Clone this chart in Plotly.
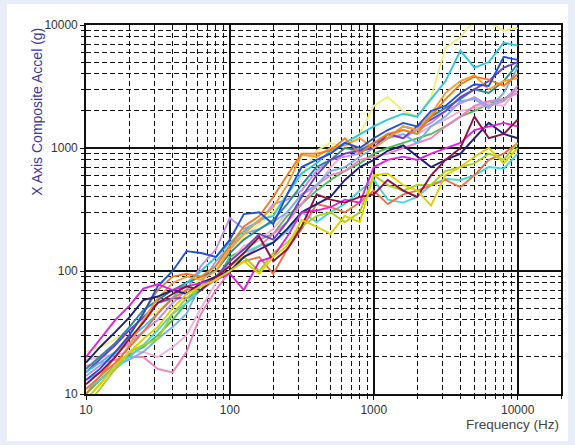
import plotly.graph_objects as go

freq = [10, 12.5, 16, 20, 25, 31.5, 40, 50, 63, 80, 100, 125, 160, 200, 250, 315, 400, 500,
        630, 800, 1000, 1250, 1600, 2000, 2500, 3150, 4000, 5000, 6300, 8000, 10000]

light_yellow = [22, 24, 28, 33, 40, 48, 60, 72, 85, 110, 150, 190, 240, 300, 420, 600, 950, 1100,
                1000, 1300, 2200, 2600, 2000, 1800, 2600, 6500, 8000, 11000, 10500, 9000, 9500]
cyan = [15, 18, 22, 28, 35, 45, 60, 80, 100, 130, 170, 210, 260, 280, 420, 620, 750, 950,
        1100, 1300, 1500, 1700, 1900, 1800, 2500, 3500, 6200, 4500, 5000, 7200, 6800]
blue = [13, 16, 22, 30, 45, 75, 100, 145, 140, 130, 180, 290, 300, 240, 420, 700, 800, 900,
        1100, 1000, 1200, 1400, 1600, 1500, 2000, 2200, 2800, 3300, 3200, 5500, 5200]
orange = [10, 14, 20, 30, 45, 70, 90, 95, 90, 110, 160, 230, 280, 400, 600, 900, 900, 950,
          1200, 900, 1100, 1300, 1400, 1300, 1800, 2500, 3300, 3800, 3600, 3200, 4000]
light_orange = [9, 12, 17, 25, 40, 60, 80, 90, 85, 100, 150, 200, 260, 330, 500, 880, 850, 1000,
                1050, 1200, 1000, 1200, 1500, 1400, 1900, 2800, 3500, 3900, 3000, 3500, 3700]
lavender = [14, 17, 21, 26, 32, 40, 55, 70, 110, 150, 270, 220, 250, 350, 380, 450, 650, 800,
            850, 900, 1100, 1300, 1200, 1400, 1600, 2000, 2300, 2600, 2200, 2400, 3200]
light_blue = [13, 15, 17, 19, 22, 28, 35, 45, 80, 120, 160, 200, 220, 250, 300, 420, 500, 650,
              700, 850, 1000, 1200, 1300, 1100, 1500, 1800, 2400, 2500, 2100, 2800, 4500]
navy = [18, 24, 32, 42, 58, 62, 70, 65, 80, 90, 100, 130, 150, 170, 220, 300, 350, 400,
        550, 700, 800, 950, 1050, 850, 700, 800, 900, 1200, 1600, 1300, 1200]
maroon = [12, 15, 20, 28, 38, 55, 65, 75, 70, 90, 110, 140, 190, 120, 150, 230, 420, 380,
          360, 400, 420, 550, 450, 400, 600, 800, 1000, 1800, 1200, 1300, 1700]
magenta = [20, 28, 40, 52, 72, 78, 70, 75, 80, 85, 95, 70, 120, 130, 190, 300, 310, 330,
           380, 360, 700, 800, 850, 800, 900, 1000, 1100, 1400, 1500, 1600, 1500]
yellow = [9, 12, 17, 22, 28, 35, 50, 65, 75, 85, 100, 120, 95, 130, 160, 260, 230, 200,
          280, 250, 600, 620, 500, 450, 340, 600, 700, 850, 1000, 750, 1000]
yellow_green = [8, 11, 16, 22, 25, 28, 45, 60, 75, 90, 110, 130, 100, 140, 170, 230, 280, 300,
                250, 300, 600, 500, 450, 500, 500, 650, 700, 750, 900, 800, 1100]
turquoise = [11, 13, 16, 20, 25, 33, 45, 55, 75, 90, 110, 140, 160, 170, 210, 300, 250, 300,
             350, 450, 550, 380, 360, 400, 500, 560, 550, 600, 700, 680, 900]
pink = [17, 18, 19, 20, 20, 16, 15, 22, 45, 70, 100, 130, 160, 200, 250, 350, 500, 600,
        650, 800, 850, 900, 1000, 1100, 1200, 1500, 1800, 2200, 2400, 2500, 2800]
light_pink = [19, 20, 21, 22, 22, 20, 24, 30, 50, 80, 120, 160, 180, 220, 300, 420, 480, 700,
              900, 1000, 1100, 1200, 1400, 1300, 1500, 1700, 2000, 2100, 2300, 2200, 3000]
green = [10, 13, 17, 21, 24, 30, 40, 55, 70, 85, 130, 150, 180, 200, 280, 350, 450, 550,
         650, 750, 900, 1000, 1100, 1200, 1300, 1500, 1800, 2000, 2300, 2500, 3000]
salmon = [11, 14, 18, 24, 32, 45, 60, 70, 75, 85, 100, 120, 130, 95, 150, 220, 350, 330,
          300, 360, 450, 350, 420, 450, 500, 550, 480, 600, 800, 900, 1100]
purple = [15, 19, 25, 33, 42, 55, 60, 60, 70, 90, 120, 150, 200, 180, 250, 400, 600, 800,
          900, 950, 1000, 1300, 1200, 1500, 1700, 2000, 2600, 3000, 3500, 4500, 5000]
dark_teal = [16, 20, 26, 35, 48, 58, 70, 80, 90, 100, 140, 180, 220, 260, 350, 500, 700, 800,
             1000, 950, 1100, 1200, 1500, 1400, 1800, 2100, 2500, 3000, 2800, 3500, 4800]

series = [
    ("Run 1", light_yellow, "#eef07a"),
    ("Run 2", green, "#48c050"),
    ("Run 3", light_pink, "#f5b0d8"),
    ("Run 4", pink, "#f080c0"),
    ("Run 5", light_blue, "#78aef0"),
    ("Run 6", lavender, "#c08ef0"),
    ("Run 7", dark_teal, "#2a8a9a"),
    ("Run 8", purple, "#7040c8"),
    ("Run 9", cyan, "#30c8e0"),
    ("Run 10", light_orange, "#f5a030"),
    ("Run 11", orange, "#f07c1c"),
    ("Run 12", blue, "#2050d8"),
    ("Run 13", turquoise, "#40d8d8"),
    ("Run 14", salmon, "#f07048"),
    ("Run 15", yellow_green, "#a8d020"),
    ("Run 16", navy, "#202078"),
    ("Run 17", magenta, "#e020e0"),
    ("Run 18", maroon, "#901040"),
    ("Run 19", yellow, "#e0d000"),
]

fig = go.Figure()
for name, vals, col in series:
    fig.add_trace(go.Scatter(x=freq, y=vals, mode="lines", name=name,
                             line=dict(color=col, width=1.9)))

axis_common = dict(
    type="log",
    showline=True, linecolor="#111", linewidth=1.6, mirror=True,
    showgrid=True, gridcolor="#111", gridwidth=1.7,
    ticks="outside", ticklen=4, tickcolor="#111",
    tickfont=dict(family="Arial, Liberation Sans, sans-serif", size=12, color="#333"),
    dtick=1, tickformat="d", zeroline=False,
    minor=dict(showgrid=True, gridcolor="#111", gridwidth=1.3, griddash="5px,3px",
               ticks="outside", ticklen=3, tickcolor="#111", dtick="D1"),
)

fig.update_xaxes(range=[1, 4.30103], **axis_common)
fig.update_yaxes(range=[1, 4], **axis_common)

fig.add_shape(type="rect", xref="paper", yref="paper", layer="below",
              x0=-0.1663, x1=1.0147, y0=-0.1274, y1=1.0569,
              fillcolor="white", line=dict(width=0))

fig.add_annotation(text="X Axis Composite Accel (g)", textangle=-90,
                   xref="paper", yref="paper", x=-0.103, y=0.998,
                   xanchor="center", yanchor="top", showarrow=False,
                   font=dict(family="Arial, Liberation Sans, sans-serif", size=14, color="#3a3a9c"))
fig.add_annotation(text="Frequency (Hz)", xref="paper", yref="paper", x=1.0, y=-0.084,
                   xanchor="right", yanchor="middle", showarrow=False,
                   font=dict(family="Arial, Liberation Sans, sans-serif", size=13.5, color="#444"))

fig.update_layout(
    width=575, height=445,
    margin=dict(l=86, r=14, t=25, b=51),
    paper_bgcolor="#e9edf7", plot_bgcolor="white",
    showlegend=False,
)

fig.write_html("out.html")
